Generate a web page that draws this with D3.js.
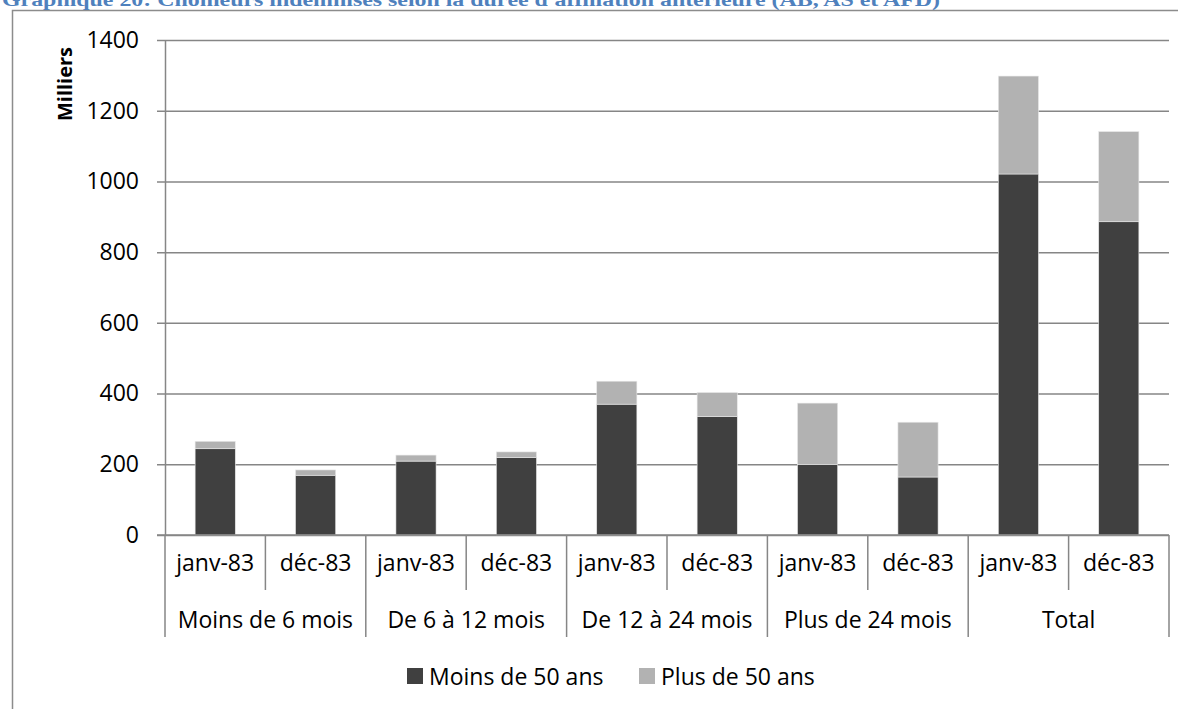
<!DOCTYPE html>
<html>
<head>
<meta charset="utf-8">
<script src="https://cdn.jsdelivr.net/npm/d3@7"></script>
<style>
  body { margin: 0; background: #fff; }
  svg { display: block; }
</style>
</head>
<body>
<div id="chart"></div>
<script>

// data (thousands)
let groups = ["Moins de 6 mois", "De 6 à 12 mois", "De 12 à 24 mois", "Plus de 24 mois", "Total"]
let periods = ["janv-83", "déc-83"]
let moins50 = [244, 169, 209, 219, 370, 335, 199, 164, 1021, 886]
let plus50 = [21, 15, 17, 16, 65, 68, 174, 155, 277, 255]
let seriesNames = ["Moins de 50 ans", "Plus de 50 ans"]
let yTicks = [0, 200, 400, 600, 800, 1000, 1200, 1400]

let width = 1178,
    height = 709

let margin = {top: 40, left: 165, right: 9, bottom: 174}
let plotW = width - margin.left - margin.right,
    plotH = height - margin.top - margin.bottom

let svg = d3.select("#chart")
  .append("svg")
    .attr("width", width)
    .attr("height", height)

// frame of the chart box and the title cut by the top of the page
svg.append("path")
  .attr("d", "M12.5,709 V10.5 H1178")
  .attr("fill", "none")
  .attr("stroke", "#8c8c8c")
  .attr("stroke-width", 1.5)

svg.append("text")
  .attr("x", 2)
  .attr("y", 6)
  .attr("font-family", "Liberation Serif")
  .attr("font-weight", "bold")
  .attr("font-size", 19)
  .attr("fill", "#4f81bd")
  .attr("textLength", 938)
  .attr("lengthAdjust", "spacingAndGlyphs")
  .text("Graphique 20: Chômeurs indemnisés selon la durée d'affiliation antérieure (AB, AS et AFD)")

let g = svg.append("g")
  .attr("transform", "translate(" + margin.left + "," + margin.top + ")")

// one key per bar: group index + period
let keys = []
groups.forEach(function(gr, i) {
  periods.forEach(function(p, j) { keys.push(i + "-" + j) })
})

let rows = keys.map(function(k, i) {
  return {key: k, moins: moins50[i], plus: plus50[i]}
})

let x = d3.scaleBand()
  .domain(keys)
  .range([0, plotW])
  .paddingInner(0.6)
  .paddingOuter(0.3)

let y = d3.scaleLinear()
  .domain([0, 1400])
  .range([plotH, 0])

let color = d3.scaleOrdinal()
  .domain(["moins", "plus"])
  .range(["#404040", "#b2b2b2"])

let fontFam = "Open Sans, sans-serif"

// gridlines + left axis
let yAxis = g.append("g")
  .call(d3.axisLeft(y).tickValues(yTicks).tickFormat(d3.format("d"))
    .tickSize(-plotW).tickSizeOuter(0).tickPadding(26))

yAxis.select(".domain").attr("stroke", "#868686").attr("stroke-width", 1.5)
yAxis.selectAll(".tick line")
  .attr("stroke", "#868686")
  .attr("stroke-width", 1.5)
  .attr("x1", -8)
yAxis.selectAll(".tick text")
  .attr("font-family", fontFam)
  .attr("font-size", 23)
  .attr("fill", "#000")

// y title
g.append("text")
  .attr("transform", "translate(-101," + (84 - margin.top) + ") rotate(-90)")
  .attr("text-anchor", "middle")
  .attr("dominant-baseline", "central")
  .attr("font-family", fontFam)
  .attr("font-weight", "bold")
  .attr("font-size", 20)
  .text("Milliers")

// stacked bars
let stacked = d3.stack().keys(["moins", "plus"])(rows)

g.selectAll("g.layer")
  .data(stacked)
  .enter()
  .append("g")
    .attr("class", "layer")
    .attr("fill", function(d) { return color(d.key) })
  .selectAll("rect")
  .data(function(d) { return d })
  .enter()
  .append("rect")
    .attr("x", function(d) { return x(d.data.key) })
    .attr("width", x.bandwidth())
    .attr("y", function(d) { return y(d[1]) })
    .attr("height", function(d) { return y(d[0]) - y(d[1]) })
    .attr("stroke", "#e8e8e8")
    .attr("stroke-width", 0.6)

// category axis: baseline and dividers
let step = x.step()
let xAxis = g.append("g").attr("transform", "translate(0," + plotH + ")")

xAxis.append("line")
  .attr("x1", -8).attr("x2", plotW)
  .attr("stroke", "#868686").attr("stroke-width", 1.5)

keys.forEach(function(k, i) {
  let xpos = x(k) - step * x.paddingOuter()
  let isGroup = i % periods.length == 0
  xAxis.append("line")
    .attr("x1", xpos).attr("x2", xpos)
    .attr("y1", 0).attr("y2", isGroup ? 102 : 55)
    .attr("stroke", "#868686").attr("stroke-width", 1.5)
})
xAxis.append("line")
  .attr("x1", plotW).attr("x2", plotW)
  .attr("y1", 0).attr("y2", 102)
  .attr("stroke", "#868686").attr("stroke-width", 1.5)

// period labels
xAxis.selectAll("text.period")
  .data(keys)
  .enter()
  .append("text")
    .attr("class", "period")
    .attr("x", function(k) { return x(k) + x.bandwidth() / 2 })
    .attr("y", 36)
    .attr("text-anchor", "middle")
    .attr("font-family", fontFam)
    .attr("font-size", 23)
    .text(function(k) { return periods[+k.split("-")[1]] })

// group labels
xAxis.selectAll("text.group")
  .data(groups)
  .enter()
  .append("text")
    .attr("class", "group")
    .attr("x", function(d, i) {
      let k0 = x(i + "-0"), k1 = x(i + "-1")
      return (k0 + k1 + x.bandwidth()) / 2
    })
    .attr("y", 93)
    .attr("text-anchor", "middle")
    .attr("font-family", fontFam)
    .attr("font-size", 23)
    .text(function(d) { return d })

// legend
let legendPos = [407, 639]
let legend = svg.selectAll("g.legend")
  .data(["moins", "plus"])
  .enter()
  .append("g")
    .attr("class", "legend")
    .attr("transform", function(d, i) { return "translate(" + legendPos[i] + ",668)" })

legend.append("rect")
  .attr("width", 16)
  .attr("height", 16)
  .attr("fill", function(d) { return color(d) })

legend.append("text")
  .attr("x", 22)
  .attr("y", 8)
  .attr("dominant-baseline", "central")
  .attr("font-family", fontFam)
  .attr("font-size", 23)
  .text(function(d, i) { return seriesNames[i] })

</script>
</body>
</html>
